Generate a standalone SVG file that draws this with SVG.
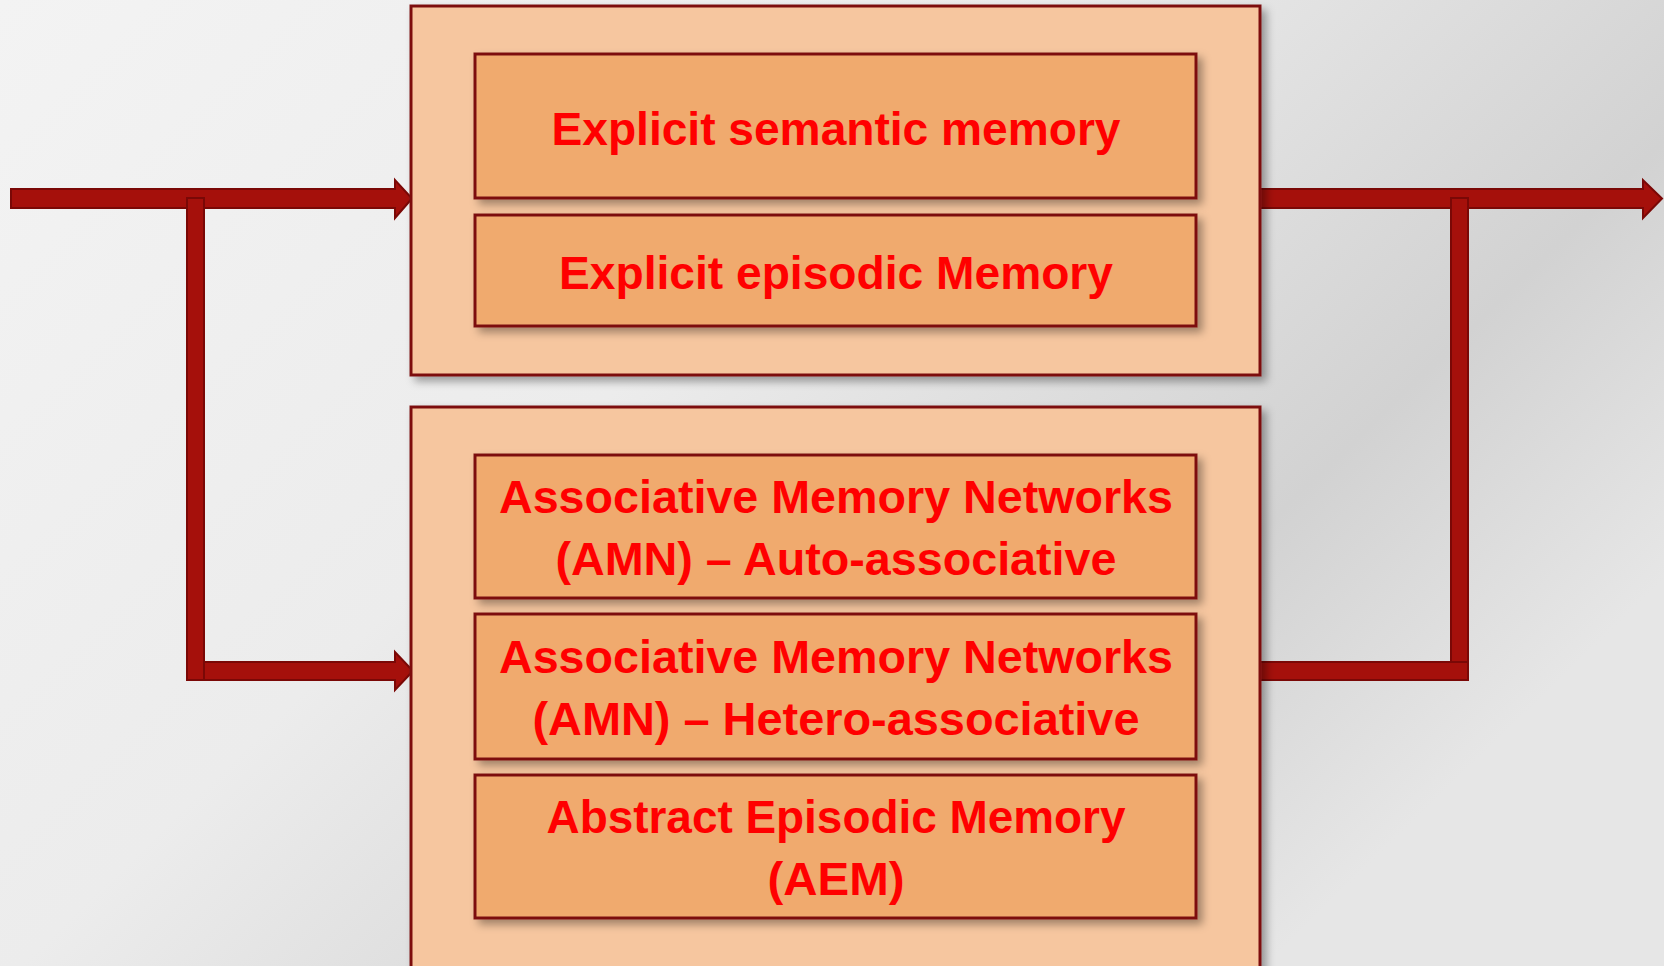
<svg xmlns="http://www.w3.org/2000/svg" width="1664" height="966" viewBox="0 0 1664 966">
<defs>
<linearGradient id="bg" x1="0" y1="0" x2="1" y2="0.6">
<stop offset="0" stop-color="#f3f3f3"/>
<stop offset="0.45" stop-color="#ececec"/>
<stop offset="0.8" stop-color="#d2d2d2"/>
<stop offset="1" stop-color="#e6e6e6"/>
</linearGradient>
<filter id="sh" x="-5%" y="-5%" width="115%" height="120%">
<feDropShadow dx="5" dy="5" stdDeviation="4" flood-color="#000" flood-opacity="0.35"/>
</filter>
<style>
.outer{fill:#f6c69f;stroke:#7d1010;stroke-width:3}
.inner{fill:#f0aa6e;stroke:#7d1010;stroke-width:3}
.t{font-family:"Liberation Sans",Arial,sans-serif;font-weight:bold;font-size:46px;fill:#ff0000;text-anchor:middle}
.ar{fill:#a5100b;stroke:#7a0806;stroke-width:2}
</style>
</defs>
<rect x="0" y="0" width="1664" height="966" fill="url(#bg)"/>
<g id="connectors">
<polygon class="ar" points="11,189 395,189 395,180 412,198.5 395,218 395,208 11,208"/>
<rect class="ar" x="187" y="198" width="17" height="482"/>
<polygon class="ar" points="204,662 395,662 395,652 413,671 395,690 395,680 204,680"/>
<polygon class="ar" points="1260,189 1643,189 1643,180 1662,198.5 1643,218 1643,208 1260,208"/>
<rect class="ar" x="1451" y="198" width="17" height="482"/>
<rect class="ar" x="1260" y="662" width="208" height="18"/>
</g>
<g id="group-explicit">
<rect class="outer" x="411" y="6" width="849" height="369" filter="url(#sh)"/>
</g>
<g id="group-associative">
<rect class="outer" x="411" y="407" width="849" height="575" filter="url(#sh)"/>
</g>
<g id="node-semantic">
<rect class="inner" x="475" y="54" width="721" height="144" filter="url(#sh)"/>
<text class="t" x="836" y="145" textLength="569" lengthAdjust="spacingAndGlyphs">Explicit semantic memory</text>
</g>
<g id="node-episodic">
<rect class="inner" x="475" y="215" width="721" height="111" filter="url(#sh)"/>
<text class="t" x="836" y="289" textLength="554" lengthAdjust="spacingAndGlyphs">Explicit episodic Memory</text>
</g>
<g id="node-amn-auto">
<rect class="inner" x="475" y="455" width="721" height="143" filter="url(#sh)"/>
<text class="t" x="836" y="513" textLength="674" lengthAdjust="spacingAndGlyphs">Associative Memory Networks</text>
<text class="t" x="836" y="575" textLength="561" lengthAdjust="spacingAndGlyphs">(AMN) – Auto-associative</text>
</g>
<g id="node-amn-hetero">
<rect class="inner" x="475" y="614" width="721" height="145" filter="url(#sh)"/>
<text class="t" x="836" y="673" textLength="674" lengthAdjust="spacingAndGlyphs">Associative Memory Networks</text>
<text class="t" x="836" y="735" textLength="607" lengthAdjust="spacingAndGlyphs">(AMN) – Hetero-associative</text>
</g>
<g id="node-aem">
<rect class="inner" x="475" y="775" width="721" height="143" filter="url(#sh)"/>
<text class="t" x="836" y="833" textLength="579" lengthAdjust="spacingAndGlyphs">Abstract Episodic Memory</text>
<text class="t" x="836" y="895" textLength="137" lengthAdjust="spacingAndGlyphs">(AEM)</text>
</g>
</svg>
